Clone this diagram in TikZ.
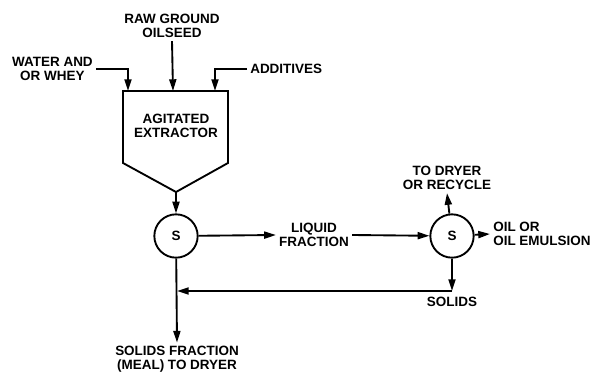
\documentclass[tikz,border=0pt]{standalone}
\usepackage{fontspec}
\setmainfont{Liberation Sans}
\usetikzlibrary{arrows.meta}
\usetikzlibrary{positioning}

\tikzset{
  lbl/.style={align=center, inner sep=2pt, font=\fontsize{11.5}{12}\selectfont\bfseries},
  sep/.style={circle, draw, minimum size=1.3cm, inner sep=0pt, font=\fontsize{11.5}{12}\selectfont\bfseries},
  flow/.style={-{Triangle[length=10pt,width=6pt]}}
}

\begin{document}
\begin{tikzpicture}[x=0.03cm, y=-0.03cm, line width=1.6pt]
  \useasboundingbox (0,0) rectangle (594,373);

  % extractor
  \draw (123,91) -- (228,91) -- (228,163) -- (176,192) -- (123,163) -- cycle;
  \coordinate (inL) at (128,91);
  \coordinate (inM) at (173,91);
  \coordinate (inR) at (215,91);
  \coordinate (apex) at (176,192);
  \node[lbl] (extr) at (176,126) {AGITATED\\EXTRACTOR};

  % feeds
  \node[lbl] (raw) at (172,26) {RAW GROUND\\OILSEED};
  \node[lbl, anchor=east] (water) at (96,69) {WATER AND\\OR WHEY};
  \node[lbl, anchor=west] (add) at (247,69) {ADDITIVES};

  \draw[flow] (raw.south) -- (inM);
  \draw[flow] (water.east) -| (inL);
  \draw[flow] (add.west) -| (inR);

  % separators
  \node[sep] (s1) at (176,236) {S};
  \node[sep] (s2) at (452,236) {S};
  \node[lbl] (liquid) at (314,235) {LIQUID\\FRACTION};
  \node[lbl] (dryer) at (447,178) {TO DRYER\\OR RECYCLE};
  \node[lbl, anchor=west, align=left] (oil) at (490,234) {OIL OR\\OIL EMULSION};
  \coordinate (sol) at (452,291);
  \coordinate (mrg) at (177,291);
  \node[lbl, below=2pt of sol] (solids) {SOLIDS};
  \node[lbl] (meal) at (177,359) {SOLIDS FRACTION\\(MEAL) TO DRYER};

  \draw[flow] (apex) -- (s1);
  \draw[flow] (s1) -- (liquid.west);
  \draw[flow] (liquid.east) -- (s2);
  \draw[flow] (s2) -- (dryer.south);
  \draw[flow] (s2) -- (oil.west);
  \draw[flow] (s2) -- (sol);
  \draw[flow] (sol) -- (mrg);
  \draw[flow] (s1) -- (meal.north);
\end{tikzpicture}
\end{document}
